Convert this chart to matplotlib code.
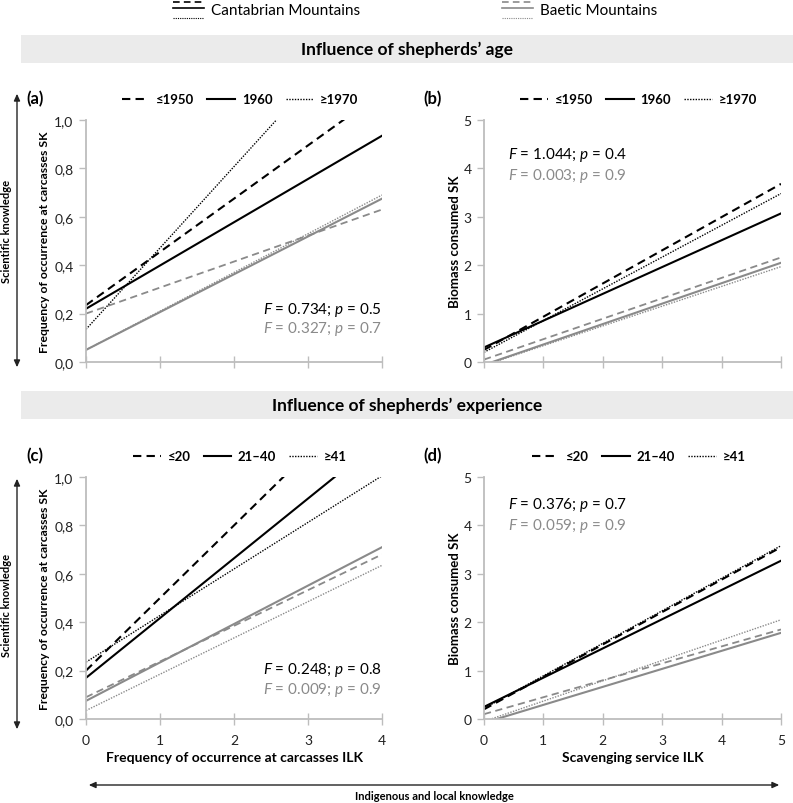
import matplotlib
matplotlib.use("Agg")
import matplotlib.pyplot as plt
from matplotlib.lines import Line2D
from matplotlib.patches import Rectangle, FancyArrowPatch
from matplotlib.legend_handler import HandlerBase

plt.rcParams['font.family'] = ['Lato', 'DejaVu Sans']
plt.rcParams['mathtext.fontset'] = 'custom'
plt.rcParams['mathtext.it'] = 'Lato:italic'
plt.rcParams['mathtext.rm'] = 'Lato'

# ---------------- data ----------------
regions = ["Cantabrian Mountains", "Baetic Mountains"]
age_groups = ["≤1950", "1960", "≥1970"]
exp_groups = ["≤20", "21–40", "≥41"]

x_freq = [0, 4]
x_scav = [0, 5]

# panel (a): frequency, age  (y at x=0, y at x=4)
a_cant_start = [0.235, 0.22, 0.135]
a_cant_end = [1.115, 0.935, 1.48]
a_baet_start = [0.20, 0.05, 0.05]
a_baet_end = [0.63, 0.675, 0.69]

# panel (b): biomass, age  (y at x=0, y at x=5)
b_cant_start = [0.25, 0.30, 0.20]
b_cant_end = [3.68, 3.07, 3.48]
b_baet_start = [0.05, -0.06, -0.07]
b_baet_end = [2.16, 2.05, 1.97]

# panel (c): frequency, experience
c_cant_start = [0.20, 0.17, 0.235]
c_cant_end = [1.40, 1.158, 1.005]
c_baet_start = [0.09, 0.075, 0.035]
c_baet_end = [0.68, 0.71, 0.635]

# panel (d): biomass, experience
d_cant_start = [0.20, 0.25, 0.22]
d_cant_end = [3.55, 3.27, 3.58]
d_baet_start = [0.10, -0.08, -0.05]
d_baet_end = [1.85, 1.78, 2.05]

stats_a = [("0.734", "0.5"), ("0.327", "0.7")]
stats_b = [("1.044", "0.4"), ("0.003", "0.9")]
stats_c = [("0.248", "0.8"), ("0.009", "0.9")]
stats_d = [("0.376", "0.7"), ("0.059", "0.9")]

freq_yticks = [0.0, 0.2, 0.4, 0.6, 0.8, 1.0]
freq_yticklabels = ["0,0", "0,2", "0,4", "0,6", "0,8", "1,0"]
scav_yticks = [0, 1, 2, 3, 4, 5]
freq_xticks = [0, 1, 2, 3, 4]
scav_xticks = [0, 1, 2, 3, 4, 5]

# ---------------- styles ----------------
BLACK = "#000000"
GREY = "#8a8a8a"
AXIS = "#bdbdbd"
styles = [dict(linestyle=(0, (4, 2.5))), dict(linestyle="-"), dict(linestyle=(0, (1, 1)))]
cant_lw = [1.5, 1.5, 1.0]
baet_lw = [1.3, 1.5, 1.0]

W, H = 793, 804
fig = plt.figure(figsize=(W / 100, H / 100), dpi=100)


def fx(px):
    return px / W


def fy(py):
    return 1 - py / H


def make_ax(left, right, top, bottom):
    return fig.add_axes([fx(left), fy(bottom), fx(right) - fx(left), fy(top) - fy(bottom)])


ax_a = make_ax(86, 382, 121, 363)
ax_b = make_ax(484, 781, 121, 363)
ax_c = make_ax(86, 382, 478, 720)
ax_d = make_ax(484, 781, 478, 720)


def style_axes(ax, xlim, ylim, xticks, yticks, yticklabels, show_xlabels):
    ax.set_xlim(*xlim)
    ax.set_ylim(*ylim)
    for s in ["top", "right"]:
        ax.spines[s].set_visible(False)
    for s in ["left", "bottom"]:
        ax.spines[s].set_color(AXIS)
        ax.spines[s].set_linewidth(1.3)
    ax.set_xticks(xticks)
    ax.set_yticks(yticks)
    ax.set_yticklabels(yticklabels)
    ax.tick_params(axis="y", direction="out", length=5, width=1, color=AXIS,
                   labelsize=10, labelcolor="#222222", pad=4)
    ax.tick_params(axis="x", direction="inout", length=9, width=1, color=AXIS,
                   labelsize=10, labelcolor="#222222", pad=6)
    if not show_xlabels:
        ax.tick_params(axis="x", labelbottom=False)


def draw_lines(ax, xs, cs, ce, bs, be):
    for i in range(3):
        ax.plot(xs, [cs[i], ce[i]], color=BLACK, lw=cant_lw[i], **styles[i])
        ax.plot(xs, [bs[i], be[i]], color=GREY, lw=baet_lw[i], **styles[i])


def panel_legend(ax, labels):
    handles = [Line2D([], [], color=BLACK, lw=1.5, **styles[0]),
               Line2D([], [], color=BLACK, lw=1.5, **styles[1]),
               Line2D([], [], color=BLACK, lw=1.0, **styles[2])]
    ax.legend(handles, labels, ncol=3, loc="center", bbox_to_anchor=(0.52, 1.085),
              frameon=False, handlelength=2.1, handletextpad=0.5, columnspacing=1.0,
              prop=dict(weight="bold", size=9.5), borderaxespad=0, borderpad=0)


def stats_text(ax, x, y1, y2, st):
    ax.text(x, y1, "$F$ = %s; $p$ = %s" % st[0], transform=ax.transAxes, color=BLACK,
            fontsize=11, ha="left", va="center")
    ax.text(x, y2, "$F$ = %s; $p$ = %s" % st[1], transform=ax.transAxes, color=GREY,
            fontsize=11, ha="left", va="center")


style_axes(ax_a, (0, 4), (0, 1), freq_xticks, freq_yticks, freq_yticklabels, False)
style_axes(ax_b, (0, 5), (0, 5), scav_xticks, scav_yticks, [str(v) for v in scav_yticks], False)
style_axes(ax_c, (0, 4), (0, 1), freq_xticks, freq_yticks, freq_yticklabels, True)
style_axes(ax_d, (0, 5), (0, 5), scav_xticks, scav_yticks, [str(v) for v in scav_yticks], True)

draw_lines(ax_a, x_freq, a_cant_start, a_cant_end, a_baet_start, a_baet_end)
draw_lines(ax_b, x_scav, b_cant_start, b_cant_end, b_baet_start, b_baet_end)
draw_lines(ax_c, x_freq, c_cant_start, c_cant_end, c_baet_start, c_baet_end)
draw_lines(ax_d, x_scav, d_cant_start, d_cant_end, d_baet_start, d_baet_end)

panel_legend(ax_a, age_groups)
panel_legend(ax_b, age_groups)
panel_legend(ax_c, exp_groups)
panel_legend(ax_d, exp_groups)

stats_text(ax_a, 0.598, 0.219, 0.14, stats_a)
stats_text(ax_b, 0.081, 0.86, 0.773, stats_b)
stats_text(ax_c, 0.598, 0.207, 0.124, stats_c)
stats_text(ax_d, 0.081, 0.888, 0.80, stats_d)

ylab_freq = "Frequency of occurrence at carcasses SK"
ylab_scav = "Biomass consumed SK"
for ax, lab, fs, pad in [(ax_a, ylab_freq, 8.8, 3), (ax_c, ylab_freq, 8.8, 3),
                         (ax_b, ylab_scav, 9.5, 2), (ax_d, ylab_scav, 9.5, 2)]:
    ax.set_ylabel(lab, fontsize=fs, fontweight="bold", labelpad=pad)
ax_c.set_xlabel("Frequency of occurrence at carcasses ILK", fontsize=10, fontweight="bold", labelpad=4)
ax_d.set_xlabel("Scavenging service ILK", fontsize=10, fontweight="bold", labelpad=4)

# panel letters
for lab, px, py in [("(a)", 35, 99), ("(b)", 433, 99), ("(c)", 35, 456), ("(d)", 433, 456)]:
    fig.text(fx(px), fy(py), lab, fontsize=12, fontweight="bold", ha="center", va="center")

# header bands
for title, top, bottom in [("Influence of shepherds’ age", 36, 64),
                           ("Influence of shepherds’ experience", 392, 420)]:
    fig.patches.append(Rectangle((fx(21), fy(bottom)), 1 - fx(21), fy(top) - fy(bottom),
                                 transform=fig.transFigure, facecolor="#ebebeb",
                                 edgecolor="none", zorder=0))
    fig.text(fx(407), fy((top + bottom) / 2), title, fontsize=12.5, fontweight="bold",
             ha="center", va="center")


# top legend with stacked line glyphs
class StackHandler(HandlerBase):
    def create_artists(self, legend, orig_handle, xdescent, ydescent, width, height,
                       fontsize, trans):
        color = orig_handle.get_color()
        arts = []
        for frac, st, lw in [(1.15, styles[0], 1.2), (0.55, styles[1], 1.2),
                             (-0.35, styles[2], 0.8)]:
            ln = Line2D([-xdescent, -xdescent + width],
                        [frac * height - ydescent] * 2, color=color, lw=lw,
                        transform=trans, **st)
            arts.append(ln)
        return arts


h_c = Line2D([], [], color=BLACK)
h_b = Line2D([], [], color=GREY)
fig.legend([h_c], [regions[0]], loc="center left", bbox_to_anchor=(fx(173), fy(11)),
           frameon=False, handler_map={Line2D: StackHandler()}, handlelength=2.0,
           handletextpad=0.5, fontsize=11, borderpad=0, borderaxespad=0)
fig.legend([h_b], [regions[1]], loc="center left", bbox_to_anchor=(fx(502), fy(11)),
           frameon=False, handler_map={Line2D: StackHandler()}, handlelength=2.0,
           handletextpad=0.5, fontsize=11, borderpad=0, borderaxespad=0)

# knowledge arrows
for top, bottom in [(92, 371), (477, 733)]:
    fig.patches.append(FancyArrowPatch((fx(17), fy(bottom)), (fx(17), fy(top)),
                                       transform=fig.transFigure,
                                       arrowstyle="<|-|>,head_length=4,head_width=1.8",
                                       color="#222222", lw=1.0, mutation_scale=1))
    fig.text(fx(7), fy((top + bottom) / 2), "Scientific knowledge", rotation=90,
             fontsize=8, fontweight="bold", ha="center", va="center")

fig.patches.append(FancyArrowPatch((fx(86), fy(786)), (fx(782), fy(786)),
                                   transform=fig.transFigure,
                                   arrowstyle="<|-|>,head_length=4,head_width=1.8",
                                   color="#222222", lw=1.0, mutation_scale=1))
fig.text(fx(434), fy(797), "Indigenous and local knowledge", fontsize=8,
         fontweight="bold", ha="center", va="center")

fig.savefig("out.png", dpi=100)
